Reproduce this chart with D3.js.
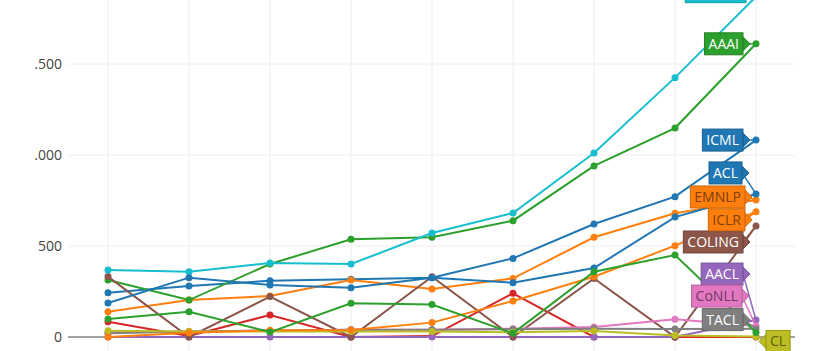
<!DOCTYPE html>
<html>
<head>
<meta charset="utf-8">
<script src="https://cdn.jsdelivr.net/npm/d3@7.9.0/dist/d3.min.js"></script>
<style>
  body { margin: 0; background: #fff; }
  svg { display: block; font-family: "Open Sans", sans-serif; }
</style>
</head>
<body>
<svg id="chart" width="825" height="351"></svg>
<script>
// papers per venue and year
const years = [2014, 2015, 2016, 2017, 2018, 2019, 2020, 2021, 2022];

const icml    = [243, 280, 309, 317, 326, 432, 621, 771, 1082];
const emnlp   = [139, 203, 225, 313, 264, 322, 548, 680, 753];
const aaai    = [313, 203, 401, 537, 548, 639, 940, 1148, 1611];
const eacl    = [84, 5, 121, 0, 5, 240, 0, 0, 0];
const aacl    = [0, 0, 0, 0, 0, 0, 0, 0, 93];
const coling  = [332, 0, 222, 0, 331, 0, 322, 0, 610];
const conll   = [25, 30, 35, 40, 40, 45, 55, 97, 60];
const tacl    = [20, 30, 35, 40, 40, 42, 45, 44, 46];
const cl      = [35, 30, 30, 30, 30, 26, 33, 8, 3];
const neurips = [368, 359, 406, 401, 571, 681, 1011, 1425, 1870];
const acl     = [187, 326, 286, 271, 326, 298, 379, 659, 786];
const iclr    = [0, 24, 37, 38, 79, 198, 331, 502, 688];
const naacl   = [99, 139, 27, 185, 178, 20, 359, 450, 25];

const venueNames = ['ICML', 'EMNLP', 'AAAI', 'EACL', 'AACL', 'COLING', 'CoNLL',
  'TACL', 'CL', 'NeurIPS', 'ACL', 'ICLR', 'NAACL'];
const venueValues = [icml, emnlp, aaai, eacl, aacl, coling, conll,
  tacl, cl, neurips, acl, iclr, naacl];

const yTicks = [0, 500, 1000, 1500];
const yTickLabels = ['0', '500', '.000', '.500'];

// label offsets (px) from the last point: [dx, dy, side]; null = label not in view
const labelShift = [
  [-13, 0, 'left'], [-11, -3, 'left'], [-13, 0, 'left'], null,
  [-13, -46, 'left'], [-13, 16, 'left'], [-14, -30, 'left'], [-13, -9, 'left'],
  [10, 5, 'right'], [-10, -5, 'left'], [-14, -21, 'left'], [-11, 8, 'left'],
  null
];
const darkText = new Set(['EMNLP', 'ICLR', 'CoNLL', 'CL']);

const series = venueNames.map((name, i) => ({ name, values: venueValues[i] }));
const colors = d3.scaleOrdinal(d3.schemeCategory10);

const svg = d3.select('#chart');
const left = 68, right = 795;

const x = d3.scaleLinear().domain([2014, 2022]).range([108, 756]);
const y = d3.scaleLinear().domain([0, 1500]).range([337, 64]);

// grid
svg.append('g')
  .selectAll('line')
  .data(years)
  .join('line')
  .attr('x1', (d) => x(d)).attr('x2', (d) => x(d))
  .attr('y1', 0).attr('y2', 351)
  .attr('stroke', '#eee');

svg.append('g')
  .selectAll('line')
  .data(yTicks.filter((d) => d > 0))
  .join('line')
  .attr('x1', left).attr('x2', right)
  .attr('y1', (d) => y(d)).attr('y2', (d) => y(d))
  .attr('stroke', '#eee');

svg.append('line')
  .attr('x1', left).attr('x2', right)
  .attr('y1', y(0)).attr('y2', y(0))
  .attr('stroke', '#444');

svg.append('g')
  .selectAll('text')
  .data(yTicks)
  .join('text')
  .attr('x', 62)
  .attr('y', (d) => y(d))
  .attr('dy', '0.36em')
  .attr('text-anchor', 'end')
  .attr('font-size', 14)
  .attr('fill', '#444')
  .text((d, i) => yTickLabels[i]);

// lines + markers
let line = d3.line()
  .x((d, i) => x(years[i]))
  .y((d) => y(d));

series.forEach((s, idx) => {
  let g = svg.append('g');
  g.append('path')
    .attr('d', line(s.values))
    .attr('fill', 'none')
    .attr('stroke', colors(idx))
    .attr('stroke-width', 2);
  g.selectAll('circle')
    .data(s.values)
    .join('circle')
    .attr('cx', (d, i) => x(years[i]))
    .attr('cy', (d) => y(d))
    .attr('r', 3.5)
    .attr('fill', colors(idx));
});

// end labels
series.forEach((s, idx) => {
  if (!labelShift[idx]) return;
  let c = colors(idx);
  let px = x(years[years.length - 1]);
  let py = y(s.values[s.values.length - 1]);
  let [dx, dy, side] = labelShift[idx];
  let g = svg.append('g');
  let t = g.append('text')
    .attr('font-size', 14)
    .attr('fill', darkText.has(s.name) ? d3.color(c).darker(2) : '#fff')
    .text(s.name);
  let w = t.node().getComputedTextLength() + 8;
  let h = 22;
  let bx = side === 'left' ? px + dx - w : px + dx;
  let cy = py + dy;
  t.attr('x', bx + w / 2).attr('y', cy).attr('dy', '0.35em').attr('text-anchor', 'middle');
  let edge = side === 'left' ? bx + w : bx;
  let dir = side === 'left' ? 1 : -1;
  g.insert('line', 'text')
    .attr('x1', edge).attr('y1', cy)
    .attr('x2', px).attr('y2', py)
    .attr('stroke', c)
    .attr('stroke-width', 1.5);
  g.insert('path', 'text')
    .attr('d', `M${edge},${cy - 7}L${edge + dir * 7},${cy}L${edge},${cy + 7}Z`)
    .attr('fill', c)
    .attr('stroke', d3.color(c).darker(0.6))
    .attr('stroke-width', 1);
  g.insert('rect', 'text')
    .attr('x', bx).attr('y', cy - h / 2)
    .attr('width', w).attr('height', h)
    .attr('fill', c)
    .attr('stroke', d3.color(c).darker(0.6))
    .attr('stroke-width', 1);
});
</script>
</body>
</html>
